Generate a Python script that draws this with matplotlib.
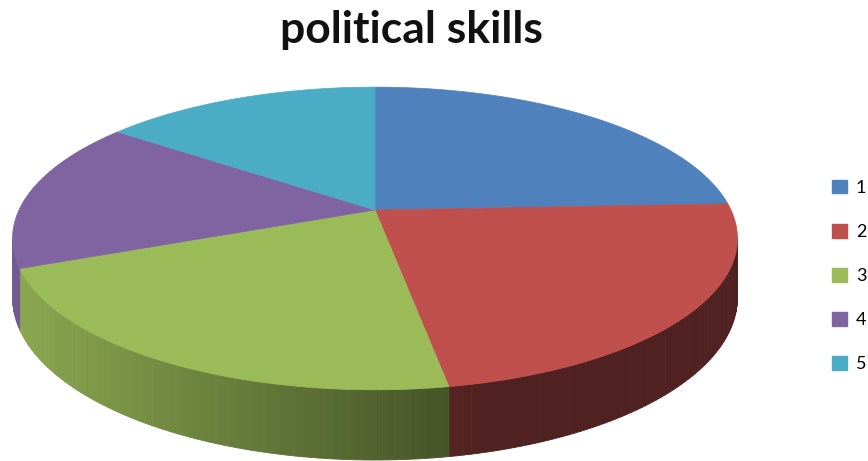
import numpy as np
import matplotlib
matplotlib.use("Agg")
import matplotlib.pyplot as plt
from matplotlib.patches import Polygon, Patch

labels = ["1", "2", "3", "4", "5"]
values = [18, 17, 16, 12, 11]
colors = ["#4F81BD", "#C0504D", "#9BBB59", "#8064A2", "#4BACC6"]
title = "political skills"

# fake 3d pie geometry (pixel units)
CX, CY = 375, 210
R, A, B = 356, 146, 0.188
DEPTH = 57


def project(theta, drop=0.0):
    u, v = np.sin(theta), np.cos(theta)
    s = 1 + B * v
    return CX + R * u / s, CY - A * v / s + drop / s


def shade(hex_color, x):
    f = max(0.41, 0.9 - 0.45 * (x - 10) / 437)
    rgb = np.array(matplotlib.colors.to_rgb(hex_color))
    return tuple(rgb * f)


fig = plt.figure(figsize=(8.68, 4.61), dpi=100)
ax = fig.add_axes([0, 0, 1, 1])
ax.set_xlim(0, 868)
ax.set_ylim(461, 0)
ax.axis("off")

frac = np.array(values) / sum(values)
bounds = np.concatenate([[0], np.cumsum(frac)]) * 2 * np.pi

# side walls, only the front part is visible
lo = np.arccos(-B)
hi = 2 * np.pi - lo
for i in range(len(values)):
    a0, a1 = max(bounds[i], lo), min(bounds[i + 1], hi)
    if a1 <= a0:
        continue
    steps = np.linspace(a0, a1, max(2, int(np.degrees(a1 - a0)) + 1))
    for t0, t1 in zip(steps[:-1], steps[1:]):
        x0, y0 = project(t0)
        x1, y1 = project(t1)
        x2, y2 = project(t1, DEPTH)
        x3, y3 = project(t0, DEPTH)
        c = shade(colors[i], (x0 + x1) / 2)
        ax.add_patch(Polygon([(x0, y0), (x1, y1), (x2, y2), (x3, y3)],
                             closed=True, facecolor=c, edgecolor=c, linewidth=0.6))

# top faces
for i in range(len(values)):
    t = np.linspace(bounds[i], bounds[i + 1], 120)
    xs, ys = project(t)
    pts = [(CX, CY)] + list(zip(xs, ys))
    ax.add_patch(Polygon(pts, closed=True, facecolor=colors[i],
                         edgecolor=colors[i], linewidth=0.5))

fig.text(411 / 868, 1 - 30 / 461, title, ha="center", va="center",
         fontsize=32, fontweight="bold", family="Lato", color="#111111")

handles = [Patch(facecolor=c, edgecolor=c) for c in colors]
fig.legend(handles, labels, loc="center left", bbox_to_anchor=(816 / 868, 1 - 276 / 461),
           frameon=False, handlelength=0.8, handleheight=0.8,
           handletextpad=0.5, labelspacing=1.55, prop={"family": "Lato", "size": 13})

fig.savefig("out.png", dpi=100)
